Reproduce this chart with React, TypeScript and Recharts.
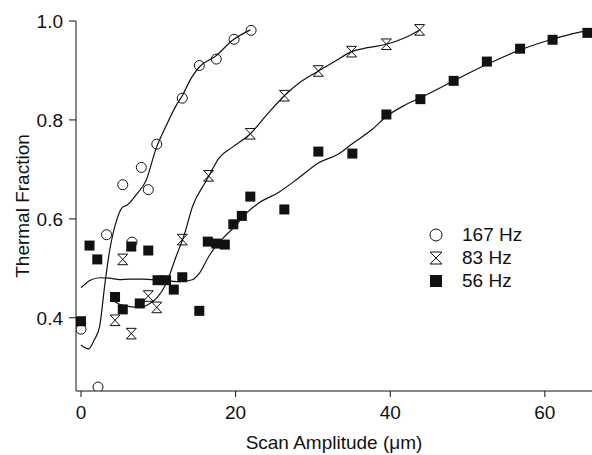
import { ComposedChart, Line, Scatter, XAxis, YAxis, Legend } from "recharts"

// 167 Hz (open circles)
const hz167X = [0, 2.2, 3.3, 5.4, 6.6, 7.8, 8.7, 9.8, 13.1, 15.3, 17.5, 19.8, 22.0]
const hz167Y = [0.377, 0.26, 0.568, 0.669, 0.553, 0.704, 0.659, 0.751, 0.844, 0.91, 0.923, 0.963, 0.981]

// 83 Hz (hourglass)
const hz83X = [4.4, 5.4, 6.5, 8.7, 9.8, 13.1, 16.5, 21.9, 26.3, 30.7, 35.0, 39.5, 43.8]
const hz83Y = [0.395, 0.518, 0.368, 0.444, 0.421, 0.558, 0.687, 0.772, 0.849, 0.899, 0.938, 0.953, 0.982]

// 56 Hz (filled squares)
const hz56X = [
  0, 1.1, 2.1, 4.4, 5.4, 6.5, 7.6, 8.7, 9.9, 11.0, 12.0, 13.1, 15.3, 16.4, 17.5, 18.6, 19.7,
  20.8, 21.9, 26.3, 30.7, 35.1, 39.5, 43.9, 48.2, 52.5, 56.8, 61.0, 65.5,
]
const hz56Y = [
  0.393, 0.546, 0.518, 0.442, 0.417, 0.544, 0.429, 0.536, 0.476, 0.476, 0.457, 0.482, 0.414,
  0.554, 0.55, 0.548, 0.589, 0.606, 0.645, 0.619, 0.736, 0.732, 0.811, 0.842, 0.879, 0.918,
  0.944, 0.962, 0.976,
]

// fitted curves
const fit167X = [0, 0.94, 1.7, 2.4, 3.1, 3.7, 4.6, 5.4, 5.9, 7.2, 8.4, 9.7, 11.0, 12.3, 13.1, 14.2, 15.3, 17.4, 19.6, 21.9]
const fit167Y = [0.345, 0.337, 0.355, 0.382, 0.47, 0.536, 0.597, 0.624, 0.627, 0.65, 0.677, 0.742, 0.788, 0.829, 0.849, 0.883, 0.907, 0.929, 0.961, 0.982]

const fit83X = [4.4, 5.4, 7.6, 8.9, 9.9, 11.0, 12.3, 13.4, 14.4, 16.2, 17.9, 19.6, 21.9, 23.9, 26.3, 28.6, 30.7, 32.9, 35.0, 37.1, 39.5, 41.9, 43.8]
const fit83Y = [0.432, 0.425, 0.421, 0.429, 0.442, 0.469, 0.524, 0.57, 0.624, 0.677, 0.724, 0.745, 0.772, 0.808, 0.849, 0.879, 0.899, 0.919, 0.938, 0.946, 0.953, 0.966, 0.982]

const fit56X = [
  0, 1.2, 2.4, 3.7, 5.0, 6.3, 8.0, 10.2, 12.7, 14.4, 15.3, 16.6, 18.3, 19.8, 21.5, 23.0, 25.6,
  28.1, 30.7, 33.3, 35.0, 37.6, 39.5, 41.9, 43.8, 46.1, 48.2, 52.6, 56.4, 60.3, 63.5, 65.9,
]
const fit56Y = [
  0.461, 0.476, 0.481, 0.48, 0.477, 0.478, 0.478, 0.476, 0.473, 0.477, 0.49, 0.526, 0.56, 0.583,
  0.613, 0.632, 0.654, 0.682, 0.713, 0.731, 0.751, 0.78, 0.807, 0.83, 0.844, 0.862, 0.879, 0.913,
  0.939, 0.96, 0.974, 0.982,
]

const xTicks = [0, 20, 40, 60]
const yTicks = [0.4, 0.6, 0.8, 1.0]

const zip = (xs: number[], ys: number[]) => xs.map((x, i) => ({ x, y: ys[i] }))

const font = '"Liberation Sans", Arial, Helvetica, sans-serif'
const ink = "#111"

function CircleMark(props: any) {
  const { cx, cy } = props
  return <circle cx={cx} cy={cy} r={5} fill="none" stroke={ink} strokeWidth={1} />
}

function GlassMark(props: any) {
  const { cx, cy } = props
  const w = 5
  const h = 5.3
  return (
    <path
      d={`M${cx - w},${cy - h}H${cx + w}L${cx - w},${cy + h}H${cx + w}Z`}
      fill="none"
      stroke={ink}
      strokeWidth={1}
    />
  )
}

function SquareMark(props: any) {
  const { cx, cy } = props
  return <rect x={cx - 5} y={cy - 5} width={10} height={10} fill={ink} />
}

const legendRows = [
  { name: "167 Hz", kind: "circle" },
  { name: "83 Hz", kind: "glass" },
  { name: "56 Hz", kind: "square" },
]

function LegendBox() {
  return (
    <div style={{ fontFamily: font, fontSize: 19, color: ink }}>
      {legendRows.map((r) => (
        <div key={r.name} style={{ display: "flex", alignItems: "center", height: 23.2 }}>
          <svg width={14} height={14} style={{ display: "block" }}>
            {r.kind === "circle" && <circle cx={7} cy={7} r={6} fill="none" stroke={ink} strokeWidth={1} />}
            {r.kind === "glass" && (
              <path d="M1,1H13L1,13H13Z" fill="none" stroke={ink} strokeWidth={1} />
            )}
            {r.kind === "square" && <rect x={1} y={1} width={12} height={12} fill={ink} />}
          </svg>
          <span style={{ marginLeft: 19, lineHeight: 1 }}>{r.name}</span>
        </div>
      ))}
    </div>
  )
}

export default function App() {
  return (
    <div style={{ position: "absolute", left: 0, top: 0, width: 592, height: 455, background: "#fff" }}>
      <ComposedChart width={592} height={455} margin={{ top: 21, right: 0, bottom: 0, left: 0 }}>
        <XAxis
          type="number"
          dataKey="x"
          domain={[-0.65, 66.1]}
          allowDataOverflow
          ticks={xTicks}
          height={64}
          tickSize={6}
          tickMargin={9}
          axisLine={{ stroke: ink }}
          tickLine={{ stroke: ink }}
          tick={{ fill: ink, fontSize: 19, fontFamily: font }}
          label={{
            value: "Scan Amplitude (\u03bcm)",
            position: "insideBottom",
            offset: 6,
            fill: ink,
            fontSize: 19,
            fontFamily: font,
          }}
        />
        <YAxis
          type="number"
          dataKey="y"
          domain={[0.252, 1.0]}
          allowDataOverflow
          ticks={yTicks}
          width={76}
          tickSize={7}
          tickMargin={6}
          tickFormatter={(v: number) => v.toFixed(1)}
          axisLine={{ stroke: ink }}
          tickLine={{ stroke: ink }}
          tick={{ fill: ink, fontSize: 19, fontFamily: font }}
          label={() => (
            <text
              x={22}
              y={206}
              transform="rotate(-90 22 206)"
              textAnchor="middle"
              dominantBaseline="central"
              fill={ink}
              fontSize={19}
              fontFamily={font}
            >
              Thermal Fraction
            </text>
          )}
        />
        <Line data={zip(fit167X, fit167Y)} dataKey="y" type="monotone" stroke={ink} strokeWidth={1.2} dot={false} activeDot={false} isAnimationActive={false} />
        <Line data={zip(fit83X, fit83Y)} dataKey="y" type="monotone" stroke={ink} strokeWidth={1.2} dot={false} activeDot={false} isAnimationActive={false} />
        <Line data={zip(fit56X, fit56Y)} dataKey="y" type="monotone" stroke={ink} strokeWidth={1.2} dot={false} activeDot={false} isAnimationActive={false} />
        <Scatter name="167 Hz" data={zip(hz167X, hz167Y)} dataKey="y" shape={CircleMark} isAnimationActive={false} />
        <Scatter name="83 Hz" data={zip(hz83X, hz83Y)} dataKey="y" shape={GlassMark} isAnimationActive={false} />
        <Scatter name="56 Hz" data={zip(hz56X, hz56Y)} dataKey="y" shape={SquareMark} isAnimationActive={false} />
        <Legend
          layout="vertical"
          align="center"
          verticalAlign="middle"
          wrapperStyle={{ left: 429, top: 223, width: 130 }}
          content={() => <LegendBox />}
        />
      </ComposedChart>
    </div>
  )
}
